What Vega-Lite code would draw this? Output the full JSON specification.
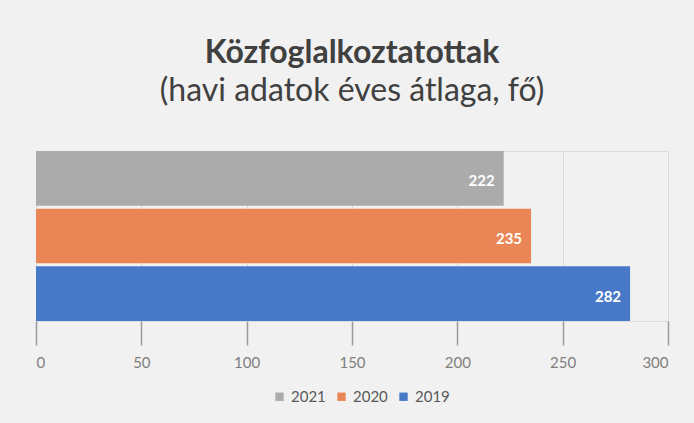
{
  "$schema": "https://vega.github.io/schema/vega-lite/v6.json",
  "autosize": "none",
  "width": 632,
  "height": 170,
  "padding": {"left": 36, "top": 151, "right": 26, "bottom": 102},
  "background": "#f1f1f1",
  "title": {
    "text": "Közfoglalkoztatottak",
    "subtitle": "(havi adatok éves átlaga, fő)",
    "anchor": "middle",
    "frame": "group",
    "font": "Lato",
    "fontSize": 32,
    "fontWeight": "bold",
    "color": "#404040",
    "subtitleFont": "Lato",
    "subtitleFontSize": 32,
    "subtitleColor": "#404040",
    "subtitlePadding": 6,
    "offset": 43
  },
  "data": {
    "values": [
      {"ev": "2021", "fo": 222},
      {"ev": "2020", "fo": 235},
      {"ev": "2019", "fo": 282}
    ]
  },
  "encoding": {
    "y": {
      "field": "ev",
      "type": "nominal",
      "sort": ["2021", "2020", "2019"],
      "scale": {"paddingInner": 0.05, "paddingOuter": 0},
      "axis": null
    },
    "x": {
      "field": "fo",
      "type": "quantitative",
      "scale": {"domain": [0, 300]},
      "axis": {
        "title": null,
        "values": [0, 50, 100, 150, 200, 250, 300],
        "domain": false,
        "grid": true,
        "gridColor": "#d9d9d9",
        "ticks": true,
        "tickSize": 24,
        "tickColor": "#9a9a9a",
        "tickWidth": 1.5,
        "labelFont": "Lato",
        "labelFontSize": 15,
        "labelColor": "#7f7f7f",
        "labelPadding": 10
      }
    }
  },
  "layer": [
    {
      "mark": {"type": "bar"},
      "encoding": {
        "color": {
          "field": "ev",
          "type": "nominal",
          "scale": {"domain": ["2021", "2020", "2019"], "range": ["#ababab", "#ea8655", "#4878c8"]},
          "legend": {
            "title": null,
            "orient": "none",
            "legendX": 236,
            "legendY": 238,
            "direction": "horizontal",
            "symbolType": "square",
            "symbolSize": 70,
            "labelFont": "Lato",
            "labelFontSize": 15,
            "labelColor": "#595959",
            "labelOffset": 4,
            "columnPadding": 8
          }
        }
      }
    },
    {
      "mark": {"type": "text", "align": "right", "dx": -9, "dy": 3, "color": "white", "fontWeight": "bold", "font": "Lato", "fontSize": 15},
      "encoding": {"text": {"field": "fo", "type": "quantitative"}}
    }
  ]
}
